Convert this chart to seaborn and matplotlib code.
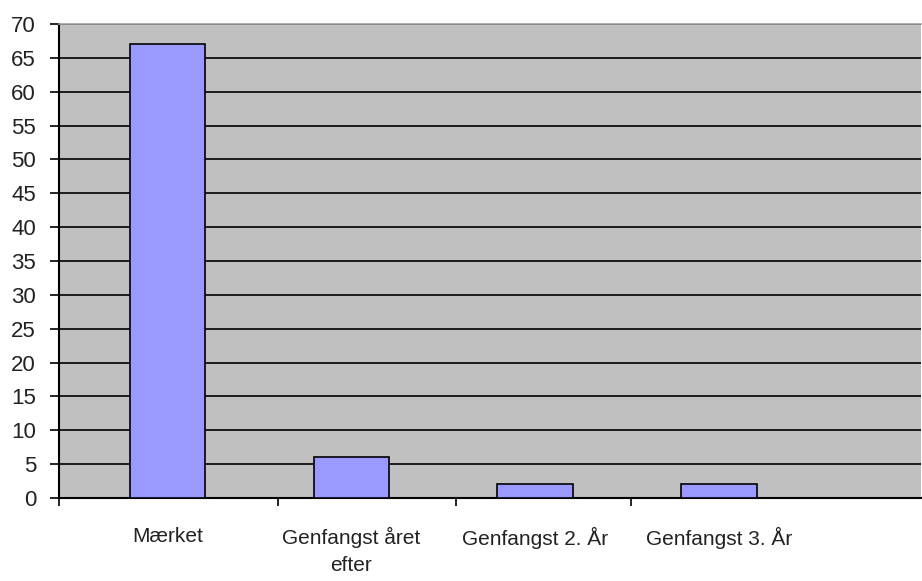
import numpy as np
import pandas as pd
import matplotlib as mpl
mpl.use("Agg")
import matplotlib.pyplot as plt
import seaborn as sns

CATEGORIES = ["Mærket", "Genfangst året\nefter", "Genfangst 2. År", "Genfangst 3. År"]
COUNTS = [67, 6, 2, 2]
Y_TICKS = list(range(0, 75, 5))

df = pd.DataFrame({"kategori": CATEGORIES, "antal": COUNTS})

sns.set_theme(style="white")
plt.rcParams["font.family"] = ["Liberation Sans", "DejaVu Sans"]

fig = plt.figure(figsize=(9.22, 5.81), dpi=100)
ax = fig.add_axes([59 / 922, 83 / 581, 862 / 922, 474 / 581])
ax.set_facecolor("#c0c0c0")

sns.barplot(
    data=df,
    x="kategori",
    y="antal",
    color="#9999ff",
    saturation=1,
    width=0.41,
    edgecolor="black",
    linewidth=1.2,
    ax=ax,
    zorder=3,
)

ax.set_ylim(0, 70)
ax.set_xlim(-0.59, 4.10)
ax.set_yticks(Y_TICKS)
ax.yaxis.grid(True, color="black", linewidth=1.2, zorder=0)
ax.set_axisbelow(True)

ax.tick_params(axis="y", direction="out", length=6.5, width=1.2, color="black",
               labelsize=16, labelcolor="#222222", pad=10, left=True)
ax.tick_params(axis="x", which="major", length=0, labelsize=15,
               labelcolor="#222222", pad=21)
for lbl in ax.get_xticklabels():
    lbl.set_linespacing(1.55)
ax.set_xticks([-0.59, 0.6, 1.57, 2.52], minor=True)
ax.tick_params(axis="x", which="minor", direction="out", length=6, width=1.2,
               color="black", bottom=True)

ax.set_xlabel("")
ax.set_ylabel("")

for side in ("left", "bottom"):
    ax.spines[side].set_color("black")
    ax.spines[side].set_linewidth(1.5)
ax.spines["top"].set_color("#a0a0a0")
ax.spines["top"].set_linewidth(1.2)
ax.spines["right"].set_visible(False)

fig.savefig("out.png", dpi=100, facecolor="white")
